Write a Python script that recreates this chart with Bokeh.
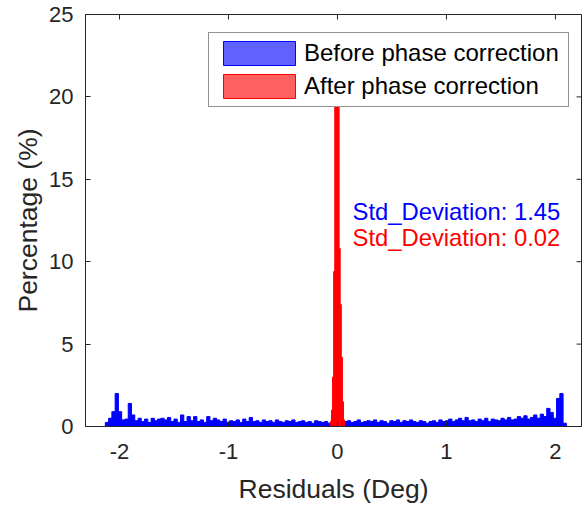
import numpy as np
from bokeh.plotting import figure
from bokeh.models import Legend, LegendItem, FixedTicker, Label
from bokeh.embed import file_html
from bokeh.resources import INLINE

# ---------------- data ----------------
# "Before phase correction" histogram (percentage per bin), bins of 0.03 deg starting at -2.13
blue_bin_start = -2.13
blue_bin_width = 0.03
blue_pct = [
    0.25, 0.5, 0.9, 2.0, 0.9, 0.4, 0.45, 1.4, 0.7, 0.35,
    0.5, 0.3, 0.45, 0.25, 0.5, 0.35, 0.45, 0.5, 0.4, 0.55,
    0.3, 0.45, 0.25, 0.7, 0.3, 0.6, 0.35, 0.6, 0.3, 0.4,
    0.25, 0.6, 0.35, 0.5, 0.4, 0.3, 0.45, 0.25, 0.35, 0.3,
    0.4, 0.25, 0.45, 0.3, 0.55, 0.3, 0.35, 0.25, 0.4, 0.3,
    0.35, 0.25, 0.4, 0.3, 0.25, 0.35, 0.3, 0.4, 0.25, 0.3,
    0.35, 0.25, 0.3, 0.2, 0.35, 0.3, 0.25, 0.3, 0.2, 0.3,
    0.3, 0.25, 0.4, 0.3, 0.35, 0.25, 0.3, 0.4, 0.25, 0.3,
    0.35, 0.3, 0.4, 0.25, 0.35, 0.3, 0.2, 0.35, 0.3, 0.4,
    0.25, 0.35, 0.3, 0.4, 0.3, 0.25, 0.35, 0.3, 0.2, 0.3,
    0.35, 0.25, 0.4, 0.3, 0.35, 0.45, 0.3, 0.4, 0.5, 0.35,
    0.55, 0.35, 0.4, 0.3, 0.45, 0.35, 0.5, 0.3, 0.45, 0.4,
    0.35, 0.5, 0.4, 0.55, 0.4, 0.45, 0.6, 0.5, 0.65, 0.45,
    0.55, 0.7, 0.5, 0.75, 0.6, 1.1, 0.85, 0.5, 1.7, 2.0,
    0.2,
]

# "After phase correction" histogram, bins of 0.01 deg starting at -0.065
red_bin_start = -0.065
red_bin_width = 0.01
red_pct = [0.3, 1.0, 3.0, 9.4, 23.0, 23.9, 23.5, 23.2, 10.8, 7.4, 4.2, 1.5, 0.4]

x_ticks = [-2, -1, 0, 1, 2]
x_tick_labels = ["-2", "-1", "0", "1", "2"]
y_ticks = [0, 5, 10, 15, 20, 25]
legend_labels = ["Before phase correction", "After phase correction"]
std_labels = ["Std_Deviation: 1.45", "Std_Deviation: 0.02"]

# ---------------- build ----------------
FONT = "Liberation Sans"
GRAY = "#262626"
BLUE = "#0000ff"
RED = "#ff0000"

blue_left = blue_bin_start + blue_bin_width * np.arange(len(blue_pct))
blue_right = blue_left + blue_bin_width
red_left = red_bin_start + red_bin_width * np.arange(len(red_pct))
red_right = red_left + red_bin_width

p = figure(width=587, height=506, x_range=(-2.312, 2.239), y_range=(0, 25),
           output_backend="svg", toolbar_location=None,
           min_border_left=85, min_border_right=6, min_border_top=14, min_border_bottom=77,
           background_fill_color="white", border_fill_color="white")

p.xgrid.visible = False
p.ygrid.visible = False
p.outline_line_color = GRAY
p.outline_line_width = 1

p.quad(left=blue_left, right=blue_right, top=blue_pct, bottom=0,
       fill_color=BLUE, line_color=BLUE, line_width=1)
p.quad(left=red_left, right=red_right, top=red_pct, bottom=0,
       fill_color=RED, line_color=RED, line_width=1)

# legend proxies (semi-transparent face, solid edge); zero-height so they only trace the baseline
lb = p.quad(left=blue_left, right=blue_right, top=0, bottom=0, fill_color=BLUE, fill_alpha=0.62,
            line_color=BLUE, line_width=1)
lr = p.quad(left=red_left, right=red_right, top=0, bottom=0, fill_color=RED, fill_alpha=0.62,
            line_color=RED, line_width=1)

legend = Legend(items=[LegendItem(label=legend_labels[0], renderers=[lb], index=0),
                       LegendItem(label=legend_labels[1], renderers=[lr], index=0)],
                location=(123, 319), orientation="vertical",
                glyph_width=90, glyph_height=30, label_standoff=0, label_width=259,
                padding=5, spacing=3, margin=0,
                label_text_font=FONT, label_text_font_size="24px", label_text_color="#000000",
                border_line_color=GRAY, border_line_width=1,
                background_fill_color="white", background_fill_alpha=1.0)
p.add_layout(legend)

p.add_layout(Label(x=0.138, y=13.06, text=std_labels[0], text_color=BLUE,
                   text_font=FONT, text_font_size="23.8px", text_baseline="alphabetic"))
p.add_layout(Label(x=0.138, y=11.44, text=std_labels[1], text_color=RED,
                   text_font=FONT, text_font_size="23.8px", text_baseline="alphabetic"))


def style_axis(ax, ticks):
    ax.ticker = FixedTicker(ticks=ticks)
    ax.axis_line_color = GRAY
    ax.axis_line_width = 1
    ax.major_tick_line_color = GRAY
    ax.major_tick_in = 5
    ax.major_tick_out = 0
    ax.minor_tick_line_color = None
    ax.major_label_text_font = FONT
    ax.major_label_text_font_size = "22px"
    ax.major_label_text_color = GRAY
    ax.axis_label_text_font = FONT
    ax.axis_label_text_font_size = "26.5px"
    ax.axis_label_text_font_style = "normal"
    ax.axis_label_text_color = GRAY


style_axis(p.xaxis[0], x_ticks)
style_axis(p.yaxis[0], y_ticks)
p.xaxis[0].major_label_overrides = {t: s for t, s in zip(x_ticks, x_tick_labels)}
p.xaxis[0].axis_label = "Residuals (Deg)"
p.yaxis[0].axis_label = "Percentage (%)"
p.xaxis[0].major_label_standoff = 17
p.xaxis[0].axis_label_standoff = 12
p.yaxis[0].major_label_standoff = 12
p.yaxis[0].axis_label_standoff = 3

# mirrored tick marks on the top and right edges of the box (pointing inward)
p.ray(x=x_ticks, y=[p.y_range.end] * len(x_ticks), length=5, length_units="screen",
      angle=-np.pi / 2, line_color=GRAY, line_width=1)
p.ray(x=[p.x_range.end] * len(y_ticks), y=y_ticks, length=5, length_units="screen",
      angle=np.pi, line_color=GRAY, line_width=1)

open("out.html", "w").write(file_html(p, INLINE))
